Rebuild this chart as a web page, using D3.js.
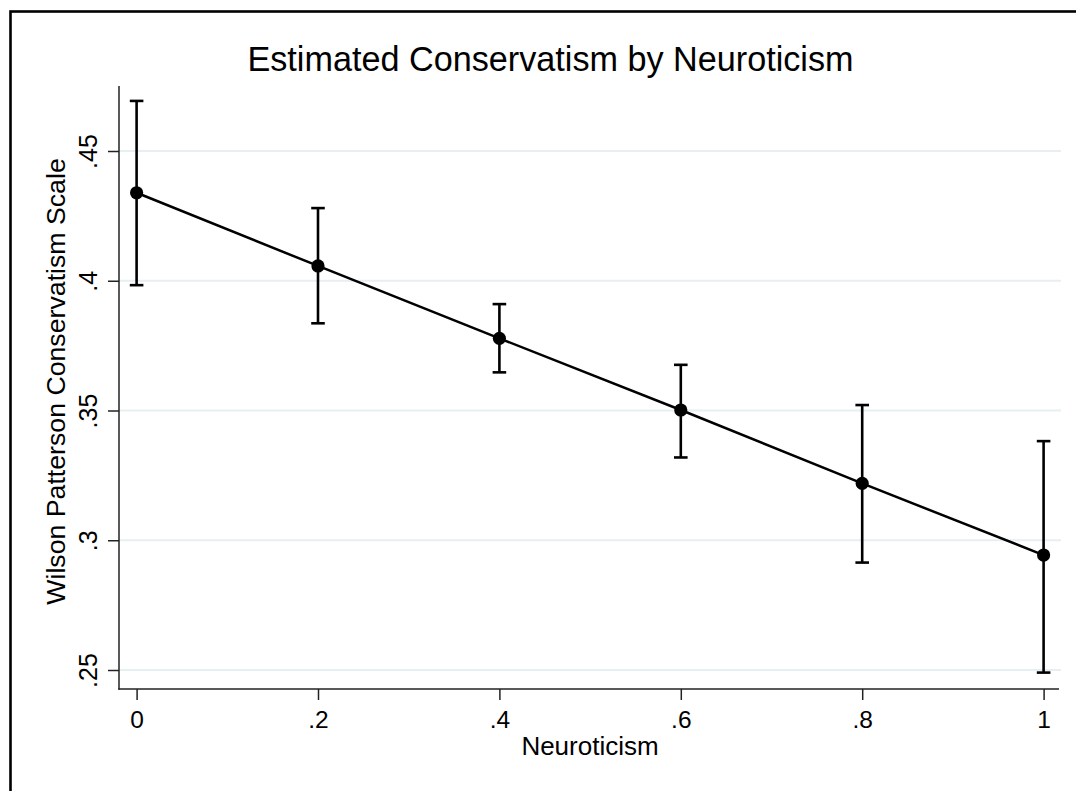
<!DOCTYPE html>
<html>
<head>
<meta charset="utf-8">
<script src="https://cdn.jsdelivr.net/npm/d3@7"></script>
<style>
  html, body { margin: 0; padding: 0; background: #fff; }
  svg { display: block; font-family: "Liberation Sans", Arial, sans-serif; }
</style>
</head>
<body>
<svg id="chart" width="1076" height="791"></svg>
<script>
// ---- data ----
const neuroticism = [0, 0.2, 0.4, 0.6, 0.8, 1];
const estimate    = [0.4339, 0.4057, 0.3778, 0.3502, 0.3219, 0.2943];
const ciLower     = [0.3983, 0.3836, 0.3647, 0.3319, 0.2914, 0.2490];
const ciUpper     = [0.4693, 0.4280, 0.3910, 0.3676, 0.3521, 0.3382];
const xTicks      = [0, 0.2, 0.4, 0.6, 0.8, 1];
const xTickLabels = ["0", ".2", ".4", ".6", ".8", "1"];
const yTicks      = [0.25, 0.3, 0.35, 0.4, 0.45];
const yTickLabels = [".25", ".3", ".35", ".4", ".45"];
const titleText   = "Estimated Conservatism by Neuroticism";
const xTitle      = "Neuroticism";
const yTitle      = "Wilson Patterson Conservatism Scale";

const svg = d3.select("#chart");

// outer frame
svg.append("rect")
  .attr("x", 10.5).attr("y", 11.5)
  .attr("width", 1200).attr("height", 1000)
  .attr("fill", "#fff").attr("stroke", "#000").attr("stroke-width", 2.6);

const plotL = 119, plotR = 1059, plotT = 86, plotB = 689;

const x = d3.scaleLinear().domain([0, 1]).range([136.6, 1043.6]);
const y = d3.scaleLinear().domain([0.25, 0.45]).range([670, 151]);

// gridlines
svg.append("g").selectAll("line").data(yTicks).join("line")
  .attr("x1", plotL).attr("x2", plotR + 2)
  .attr("y1", d => y(d)).attr("y2", d => y(d))
  .attr("stroke", "#e6eff1").attr("stroke-width", 2);

// axes
const yAxis = d3.axisLeft(y).tickValues(yTicks)
  .tickFormat((d, i) => yTickLabels[i]).tickSize(11).tickSizeOuter(0);
const gy = svg.append("g").attr("transform", `translate(${plotL},0)`).call(yAxis);
gy.select(".domain").remove();
gy.selectAll(".tick line").attr("stroke", "#222").attr("stroke-width", 1.5);
gy.selectAll(".tick text")
  .attr("transform", "rotate(-90)")
  .attr("x", 0).attr("y", -22.5).attr("dy", 0).attr("dx", 0)
  .attr("text-anchor", "middle")
  .attr("font-size", 25).attr("fill", "#000")
  .style("font-family", "'Liberation Sans', Arial, sans-serif");

const xAxis = d3.axisBottom(x).tickValues(xTicks)
  .tickFormat((d, i) => xTickLabels[i]).tickSize(11).tickSizeOuter(0);
const gx = svg.append("g").attr("transform", `translate(0,${plotB})`).call(xAxis);
gx.select(".domain").remove();
gx.selectAll(".tick line").attr("stroke", "#222").attr("stroke-width", 1.5);
gx.selectAll(".tick text")
  .attr("y", 39).attr("dy", 0)
  .attr("font-size", 24.5).attr("fill", "#000")
  .style("font-family", "'Liberation Sans', Arial, sans-serif");

// axis lines
svg.append("line").attr("x1", plotL).attr("x2", plotL).attr("y1", plotT).attr("y2", plotB + 0.75)
  .attr("stroke", "#222").attr("stroke-width", 1.5);
svg.append("line").attr("x1", plotL - 0.75).attr("x2", plotR).attr("y1", plotB).attr("y2", plotB)
  .attr("stroke", "#222").attr("stroke-width", 1.5);

// data rows
const rows = neuroticism.map((n, i) => ({ n, est: estimate[i], lo: ciLower[i], hi: ciUpper[i] }));

// error bars
const eb = svg.append("g").attr("stroke", "#000").attr("stroke-width", 2.6);
eb.selectAll("line.v").data(rows).join("line").attr("class", "v")
  .attr("x1", d => x(d.n)).attr("x2", d => x(d.n))
  .attr("y1", d => y(d.lo)).attr("y2", d => y(d.hi));
eb.selectAll("line.ct").data(rows).join("line").attr("class", "ct")
  .attr("x1", d => x(d.n) - 6.8).attr("x2", d => x(d.n) + 6.8)
  .attr("y1", d => y(d.hi)).attr("y2", d => y(d.hi));
eb.selectAll("line.cb").data(rows).join("line").attr("class", "cb")
  .attr("x1", d => x(d.n) - 6.8).attr("x2", d => x(d.n) + 6.8)
  .attr("y1", d => y(d.lo)).attr("y2", d => y(d.lo));

// connecting line
svg.append("path").datum(rows)
  .attr("fill", "none").attr("stroke", "#000").attr("stroke-width", 2.5)
  .attr("d", d3.line().x(d => x(d.n)).y(d => y(d.est)));

// markers
svg.append("g").selectAll("circle").data(rows).join("circle")
  .attr("cx", d => x(d.n)).attr("cy", d => y(d.est)).attr("r", 6.6)
  .attr("fill", "#000");

// titles
svg.append("text").attr("x", 550.5).attr("y", 71)
  .attr("text-anchor", "middle").attr("font-size", 34.2).attr("fill", "#000")
  .text(titleText);
svg.append("text").attr("x", 590).attr("y", 755)
  .attr("text-anchor", "middle").attr("font-size", 26).attr("fill", "#000")
  .text(xTitle);
svg.append("text").attr("transform", "translate(65,381.5) rotate(-90)")
  .attr("text-anchor", "middle").attr("font-size", 26.7).attr("fill", "#000")
  .text(yTitle);
</script>
</body>
</html>
